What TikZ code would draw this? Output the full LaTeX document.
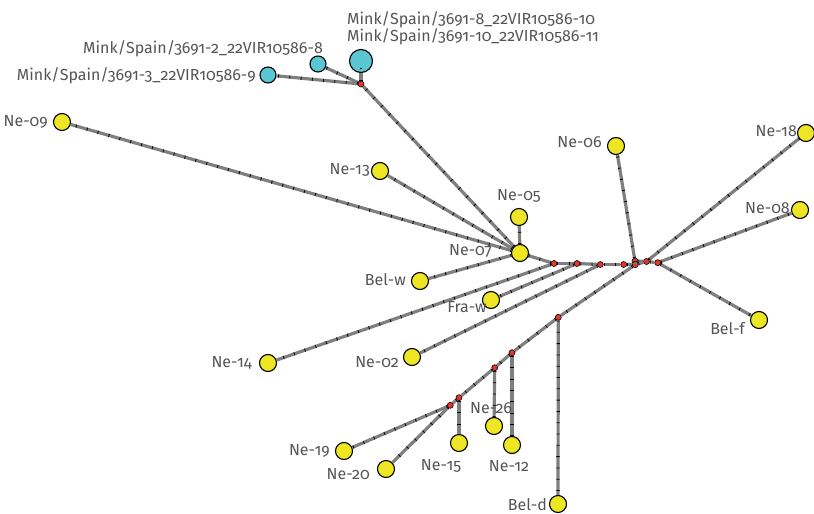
\documentclass[tikz,border=0pt]{standalone}
\usepackage{fontspec}
\setmainfont{Fira Sans}[Numbers=OldStyle]
\definecolor{ylw}{HTML}{EEE524}
\definecolor{cyn}{HTML}{5BC6D3}
\definecolor{rd}{HTML}{E8342A}
\definecolor{edg}{HTML}{7F7F7F}
\definecolor{txt}{HTML}{555555}
\begin{document}
\begin{tikzpicture}[x=1pt,y=-1pt,
  yl/.style={circle,draw=black,line width=1.1pt,fill=ylw,minimum size=17pt,inner sep=0pt},
  cy/.style={circle,draw=black,line width=1.1pt,fill=cyn,minimum size=16pt,inner sep=0pt},
  cybig/.style={cy,minimum size=23pt},
  rn/.style={circle,draw=black,line width=0.6pt,fill=rd,minimum size=6pt,inner sep=0pt},
  lbl/.style={text=txt,font=\fontsize{16}{17.5}\selectfont,inner sep=1pt},
  ed/.style={edg,line width=3.2pt,postaction={draw=black,line width=3.2pt,dash pattern=on 0.8pt off 10.5pt}}]
\useasboundingbox (0,0) rectangle (814,514);
% nodes
\node[cybig] (mk10) at (361,61) {};
\node[cy] (mk8) at (318,64) {};
\node[cy] (mk9) at (268,75) {};
\node[rn] (jm) at (361,84) {};
\node[yl] (ne09) at (62,122) {};
\node[yl] (ne13) at (380,171) {};
\node[yl] (ne05) at (519,217) {};
\node[yl] (ne07) at (520,253) {};
\node[yl] (belw) at (420,281) {};
\node[yl] (fraw) at (491,300) {};
\node[yl] (ne14) at (268,363) {};
\node[yl] (ne02) at (412,357) {};
\node[yl] (ne06) at (616,146) {};
\node[yl] (ne18) at (806,133) {};
\node[yl] (ne08) at (800,210) {};
\node[yl] (belf) at (759,320) {};
\node[yl] (beld) at (558,504) {};
\node[yl] (ne12) at (512,445) {};
\node[yl] (ne26) at (494,426) {};
\node[yl] (ne15) at (459,443) {};
\node[yl] (ne19) at (344,451) {};
\node[yl] (ne20) at (386,469) {};
\node[rn] (r1) at (554,263.5) {};
\node[rn] (r2) at (577,263.5) {};
\node[rn] (r3) at (600.3,264.5) {};
\node[rn] (r4) at (623.7,264.5) {};
\node[rn] (r5) at (635,261) {};
\node[rn] (r6) at (635.3,264.7) {};
\node[rn] (r7) at (646.5,261.5) {};
\node[rn] (r8) at (657.7,262.7) {};
\node[rn] (b1) at (558.3,317.3) {};
\node[rn] (b2) at (512,352.7) {};
\node[rn] (b3) at (494.7,367.7) {};
\node[rn] (b4) at (459,397.7) {};
\node[rn] (b5) at (450.3,405.3) {};
\draw[line width=1pt] ([xshift=-1.2pt,yshift=-7pt]mk10.center) -- ([xshift=1.2pt,yshift=-7pt]mk10.center);
% edges
\draw[ed] (jm) -- (mk10);
\draw[ed] (jm) -- (mk8);
\draw[ed] (jm) -- (mk9);
\draw[ed] (ne07) -- (jm);
\draw[ed] (ne07) -- (ne09);
\draw[ed] (ne07) -- (ne13);
\draw[ed] (ne07) -- (ne05);
\draw[ed] (ne07) -- (belw);
\draw[ed] (ne07) -- (r1);
\draw[ed] (r1) -- (r2);
\draw[ed] (r2) -- (r3);
\draw[ed] (r3) -- (r4);
\draw[ed] (r4) -- (r6);
\draw[ed] (r6) -- (r5);
\draw[ed] (r5) -- (r7);
\draw[ed] (r6) -- (r7);
\draw[ed] (r7) -- (r8);
\draw[ed] (r1) -- (ne14);
\draw[ed] (r2) -- (fraw);
\draw[ed] (r3) -- (ne02);
\draw[ed] (r5) -- (ne06);
\draw[ed] (r7) -- (ne18);
\draw[ed] (r8) -- (ne08);
\draw[ed] (r8) -- (belf);
\draw[ed] (r6) -- (b1);
\draw[ed] (b1) -- (beld);
\draw[ed] (b1) -- (b2);
\draw[ed] (b2) -- (ne12);
\draw[ed] (b2) -- (b3);
\draw[ed] (b3) -- (ne26);
\draw[ed] (b3) -- (b4);
\draw[ed] (b4) -- (ne15);
\draw[ed] (b4) -- (b5);
\draw[ed] (b5) -- (ne19);
\draw[ed] (b5) -- (ne20);
% labels
\node[lbl,anchor=west,align=left] (lmk10) at (346,28) {Mink/Spain/3691-8\_22VIR10586-10\\Mink/Spain/3691-10\_22VIR10586-11};
\node[lbl,anchor=east] (lmk8) at (324,49) {Mink/Spain/3691-2\_22VIR10586-8};
\node[lbl,anchor=east] (lmk9) at (257,76) {Mink/Spain/3691-3\_22VIR10586-9};
\node[lbl,anchor=east] (l09) at (49,122) {Ne-09};
\node[lbl,anchor=east] (l13) at (371,170) {Ne-13};
\node[lbl] (l05) at (519,196) {Ne-05};
\node[lbl,anchor=east] (l07) at (493,251) {Ne-07};
\node[lbl,anchor=east] (lbw) at (407,280) {Bel-w};
\node[lbl] (lfw) at (467,307) {Fra-w};
\node[lbl,anchor=east] (l14) at (253,363) {Ne-14};
\node[lbl,anchor=east] (l02) at (400,362) {Ne-02};
\node[lbl,anchor=east] (l06) at (603,142) {Ne-06};
\node[lbl,anchor=east] (l18) at (798,131) {Ne-18};
\node[lbl,anchor=east] (l08) at (791,208) {Ne-08};
\node[lbl,anchor=east] (lbf) at (746,329) {Bel-f};
\node[lbl] (l26) at (491,408) {Ne-26};
\node[lbl] (l15) at (441,466) {Ne-15};
\node[lbl] (l12) at (509,466) {Ne-12};
\node[lbl,anchor=east] (l19) at (331,451) {Ne-19};
\node[lbl,anchor=east] (l20) at (371,474) {Ne-20};
\node[lbl,anchor=east] (lbd) at (548,505) {Bel-d};
\end{tikzpicture}
\end{document}
